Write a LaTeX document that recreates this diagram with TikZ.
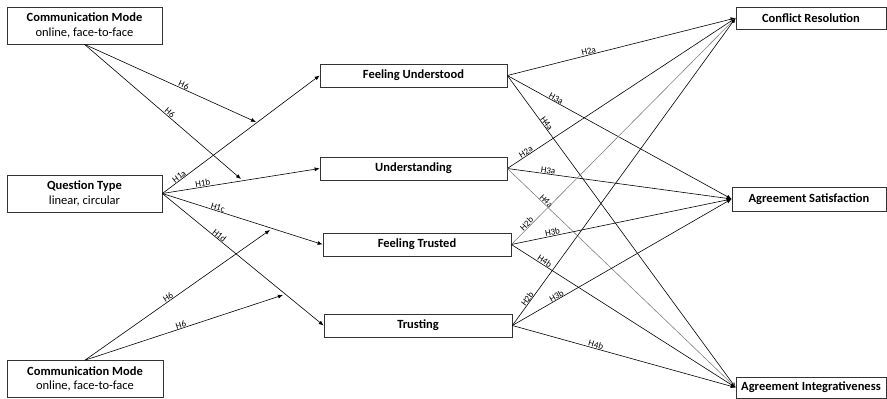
\documentclass[tikz,border=0pt]{standalone}
\usepackage{fontspec}
\setmainfont{Carlito}
\usetikzlibrary{arrows.meta}
\begin{document}
\begin{tikzpicture}[x=1pt,y=-1pt,
  box/.style={draw=black!80,line width=0.7pt,inner sep=0pt,align=center,font=\fontsize{12.5}{14.5}\selectfont},
  link/.style={line width=0.6pt,-{Latex[length=5pt,width=4pt]}},
  glink/.style={link,draw=black!50},
  lab/.style={sloped,above,inner sep=0.3pt,font=\fontsize{9}{9}\selectfont}]
\useasboundingbox (0,0) rectangle (887,399);
% left boxes
\node[box,minimum width=155,minimum height=37] (cm1) at (84.5,25.5) {\textbf{Communication Mode}\\online, face-to-face};
\node[box,minimum width=155,minimum height=37] (qt) at (84.5,193.5) {\textbf{Question Type}\\linear, circular};
\node[box,minimum width=156,minimum height=37] (cm2) at (85,379) {\textbf{Communication Mode}\\online, face-to-face};
% middle boxes
\node[box,minimum width=187,minimum height=23] (fu) at (413.5,75.5) {\textbf{Feeling Understood}};
\node[box,minimum width=187,minimum height=23] (un) at (413.5,168.5) {\textbf{Understanding}};
\node[box,minimum width=188,minimum height=23] (ft) at (417,244.5) {\textbf{Feeling Trusted}};
\node[box,minimum width=188,minimum height=23] (tr) at (418,325.5) {\textbf{Trusting}};
% right boxes
\node[box,minimum width=150,minimum height=22] (cr) at (811,18) {\textbf{Conflict Resolution}};
\node[box,minimum width=154,minimum height=24] (as) at (809,199) {\textbf{Agreement Satisfaction}};
\node[box,minimum width=150,minimum height=21] (ai) at (811,387.5) {\textbf{Agreement Integrativeness}};
% moderation targets
\coordinate (m1) at (256,122);
\coordinate (m2) at (241,179);
\coordinate (m3) at (270,230);
\coordinate (m4) at (283,295);
% top communication mode
\draw[link] (cm1.south) -- node[lab,pos=0.57] {H6} (m1);
\draw[link] (cm1.south) -- node[lab,pos=0.53] {H6} (m2);
% question type
\draw[link] (qt.east) -- node[lab,pos=0.12] {H1a} (fu.west);
\draw[link] (qt.east) -- node[lab,pos=0.26] {H1b} (un.west);
\draw[link] (qt.east) -- node[lab,pos=0.34] {H1c} (ft.west);
\draw[link] (qt.east) -- node[lab,pos=0.34] {H1d} (tr.west);
% bottom communication mode
\draw[link] (cm2.north) -- node[lab,pos=0.46] {H6} (m3);
\draw[link] (cm2.north) -- node[lab,pos=0.49] {H6} (m4);
% feeling understood
\draw[link] (fu.east) -- node[lab,pos=0.36] {H2a} (cr.west);
\draw[link] (fu.east) -- node[lab,pos=0.21] {H3a} (as.west);
\draw[link] (fu.east) -- node[lab,pos=0.16] {H4a} (ai.west);
% understanding
\draw[link] (un.east) -- node[lab,pos=0.09] {H2a} (cr.west);
\draw[link] (un.east) -- node[lab,pos=0.18] {H3a} (as.west);
\draw[glink] (un.east) -- node[lab,pos=0.16,text=black] {H4a} (ai.west);
% feeling trusted
\draw[glink] (ft.east) -- node[lab,pos=0.08,text=black] {H2b} (cr.west);
\draw[link] (ft.east) -- node[lab,pos=0.19] {H3b} (as.west);
\draw[link] (ft.east) -- node[lab,pos=0.14] {H4b} (ai.west);
% trusting
\draw[link] (tr.east) -- node[lab,pos=0.08] {H2b} (cr.west);
\draw[link] (tr.east) -- node[lab,pos=0.21] {H3b} (as.west);
\draw[link] (tr.east) -- node[lab,pos=0.37] {H4b} (ai.west);
\end{tikzpicture}
\end{document}
